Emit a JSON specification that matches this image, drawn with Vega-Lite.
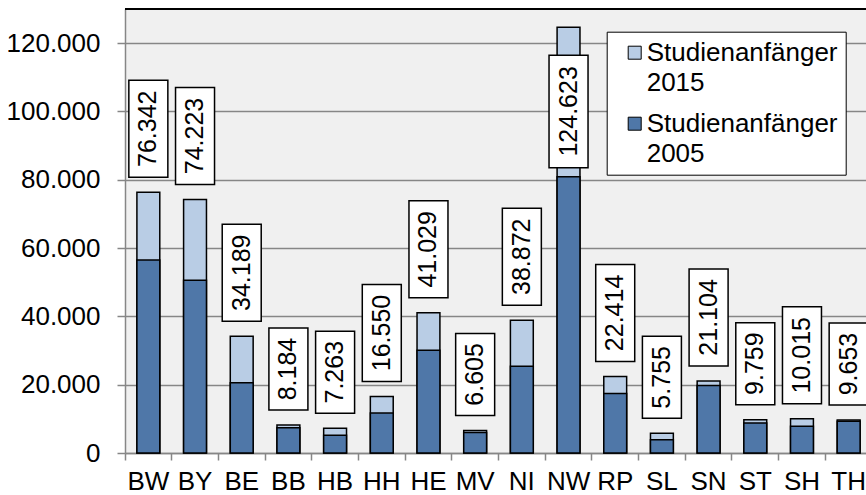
{
  "$schema": "https://vega.github.io/schema/vega-lite/v6.json",
  "width": 741,
  "height": 444,
  "autosize": "none",
  "padding": {"left": 125, "top": 9, "right": 0, "bottom": 42},
  "background": "white",
  "config": {
    "locale": {"number": {"decimal": ",", "thousands": ".", "grouping": [3], "currency": ["", " €"]}},
    "view": {"fill": "#f0f0f0", "stroke": null},
    "font": "Liberation Sans",
    "style": {"guide-label": {"lineHeight": 30}}
  },
  "data": {
    "values": [
      {"Land": "BW", "Studienanfänger 2015": 76342, "Studienanfänger 2005": 56500},
      {"Land": "BY", "Studienanfänger 2015": 74223, "Studienanfänger 2005": 50600},
      {"Land": "BE", "Studienanfänger 2015": 34189, "Studienanfänger 2005": 20600},
      {"Land": "BB", "Studienanfänger 2015": 8184, "Studienanfänger 2005": 7400},
      {"Land": "HB", "Studienanfänger 2015": 7263, "Studienanfänger 2005": 5200},
      {"Land": "HH", "Studienanfänger 2015": 16550, "Studienanfänger 2005": 11700},
      {"Land": "HE", "Studienanfänger 2015": 41029, "Studienanfänger 2005": 30100},
      {"Land": "MV", "Studienanfänger 2015": 6605, "Studienanfänger 2005": 6000},
      {"Land": "NI", "Studienanfänger 2015": 38872, "Studienanfänger 2005": 25400},
      {"Land": "NW", "Studienanfänger 2015": 124623, "Studienanfänger 2005": 80900},
      {"Land": "RP", "Studienanfänger 2015": 22414, "Studienanfänger 2005": 17400},
      {"Land": "SL", "Studienanfänger 2015": 5755, "Studienanfänger 2005": 3900},
      {"Land": "SN", "Studienanfänger 2015": 21104, "Studienanfänger 2005": 19800},
      {"Land": "ST", "Studienanfänger 2015": 9759, "Studienanfänger 2005": 8800},
      {"Land": "SH", "Studienanfänger 2015": 10015, "Studienanfänger 2005": 7800},
      {"Land": "TH", "Studienanfänger 2015": 9653, "Studienanfänger 2005": 9300}
    ]
  },
  "layer": [
    {
      "encoding": {
        "x": {
          "field": "Land", "type": "nominal", "sort": null, "title": null,
          "scale": {"range": [0, 747], "paddingInner": 0, "paddingOuter": 0},
          "axis": {
            "labelAngle": 0, "bandPosition": 0, "tickSize": 7, "tickColor": "#868686", "tickWidth": 1.5,
            "domainColor": "#868686", "domainWidth": 1.5, "labelFontSize": 26, "labelColor": "black",
            "labelPadding": 8, "grid": false, "labelOverlap": false, "labelBound": false
          }
        }
      },
      "layer": [
        {
          "transform": [{"fold": ["Studienanfänger 2015", "Studienanfänger 2005"], "as": ["Reihe", "Anzahl"]}],
          "mark": {"type": "bar", "width": {"band": 0.49}, "stroke": "black", "strokeWidth": 1.5},
          "encoding": {
            "y": {
              "field": "Anzahl", "type": "quantitative", "stack": null, "title": null,
              "scale": {"domain": [0, 130000], "nice": false, "zero": true},
              "axis": {
                "values": [0, 20000, 40000, 60000, 80000, 100000, 120000], "format": ",d",
                "tickSize": 8, "tickColor": "#868686", "tickWidth": 1.5,
                "domainColor": "#868686", "domainWidth": 1.5,
                "gridColor": "#868686", "gridWidth": 1.5,
                "labelFontSize": 26, "labelColor": "black", "labelPadding": 17
              }
            },
            "fill": {
              "field": "Reihe", "type": "nominal",
              "scale": {"domain": ["Studienanfänger 2015", "Studienanfänger 2005"], "range": ["#b9cde5", "#4f77a8"]},
              "legend": {
                "title": null, "orient": "none", "legendX": 481.7, "legendY": 22.7,
                "fillColor": "white", "strokeColor": "black", "padding": 8,
                "symbolType": "square", "symbolSize": 169, "symbolOffset": 7,
                "symbolStrokeColor": "black", "symbolStrokeWidth": 1, "symbolOpacity": 1,
                "labelFontSize": 26, "labelColor": "black", "labelLimit": 400, "labelOffset": -1,
                "rowPadding": 15,
                "labelExpr": "[split(datum.label, ' ')[0] + '    ', split(datum.label, ' ')[1]]"
              }
            }
          }
        },
        {
          "transform": [{"filter": "datum['Studienanfänger 2015'] < 10000"}],
          "mark": {"type": "bar", "width": 39, "fill": "white", "stroke": "black", "strokeWidth": 1.5, "yOffset": -15, "y2Offset": -97},
          "encoding": {
            "y": {"field": "Studienanfänger 2015", "type": "quantitative", "title": null},
            "y2": {"field": "Studienanfänger 2015"}
          }
        },
        {
          "transform": [{"filter": "datum['Studienanfänger 2015'] < 10000"}],
          "mark": {"type": "text", "angle": 270, "fontSize": 25, "align": "center", "baseline": "middle", "color": "black", "yOffset": -56},
          "encoding": {
            "y": {"field": "Studienanfänger 2015", "type": "quantitative", "title": null},
            "text": {"field": "Studienanfänger 2015", "type": "quantitative", "format": ",d"}
          }
        },
        {
          "transform": [{"filter": "datum['Studienanfänger 2015'] >= 10000 && datum['Studienanfänger 2015'] < 100000"}],
          "mark": {"type": "bar", "width": 39, "fill": "white", "stroke": "black", "strokeWidth": 1.5, "yOffset": -15, "y2Offset": -112},
          "encoding": {
            "y": {"field": "Studienanfänger 2015", "type": "quantitative", "title": null},
            "y2": {"field": "Studienanfänger 2015"}
          }
        },
        {
          "transform": [{"filter": "datum['Studienanfänger 2015'] >= 10000 && datum['Studienanfänger 2015'] < 100000"}],
          "mark": {"type": "text", "angle": 270, "fontSize": 25, "align": "center", "baseline": "middle", "color": "black", "yOffset": -63.5},
          "encoding": {
            "y": {"field": "Studienanfänger 2015", "type": "quantitative", "title": null},
            "text": {"field": "Studienanfänger 2015", "type": "quantitative", "format": ",d"}
          }
        },
        {
          "transform": [{"filter": "datum['Studienanfänger 2015'] >= 100000"}],
          "mark": {"type": "bar", "width": 39, "fill": "white", "stroke": "black", "strokeWidth": 1.5, "yOffset": 28, "y2Offset": 140.5},
          "encoding": {
            "y": {"field": "Studienanfänger 2015", "type": "quantitative", "title": null},
            "y2": {"field": "Studienanfänger 2015"}
          }
        },
        {
          "transform": [{"filter": "datum['Studienanfänger 2015'] >= 100000"}],
          "mark": {"type": "text", "angle": 270, "fontSize": 25, "align": "center", "baseline": "middle", "color": "black", "yOffset": 84},
          "encoding": {
            "y": {"field": "Studienanfänger 2015", "type": "quantitative", "title": null},
            "text": {"field": "Studienanfänger 2015", "type": "quantitative", "format": ",d"}
          }
        }
      ]
    },
    {
      "mark": {"type": "rule", "color": "black", "strokeWidth": 1.5},
      "encoding": {"y": {"datum": 130000, "type": "quantitative", "title": null}}
    }
  ]
}
